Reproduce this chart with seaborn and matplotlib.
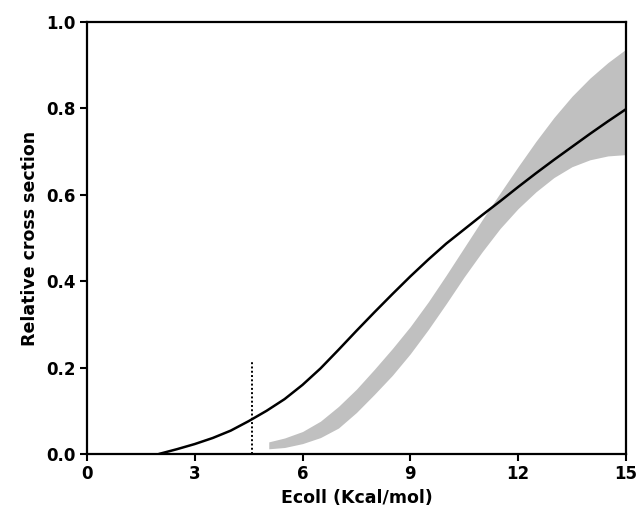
import matplotlib
matplotlib.use("Agg")
import matplotlib.pyplot as plt
import seaborn as sns
import pandas as pd

# Theory curve
curve_e = [2.0, 2.5, 3.0, 3.5, 4.0, 4.5, 5.0, 5.5, 6.0, 6.5, 7.0, 7.5, 8.0, 8.5,
           9.0, 9.5, 10.0, 10.5, 11.0, 11.5, 12.0, 12.5, 13.0, 13.5, 14.0, 14.5, 15.0]
curve_y = [0.0, 0.011, 0.023, 0.037, 0.054, 0.076, 0.100, 0.127, 0.160, 0.198,
           0.241, 0.285, 0.328, 0.370, 0.411, 0.450, 0.487, 0.520, 0.553, 0.585,
           0.618, 0.650, 0.681, 0.711, 0.741, 0.770, 0.798]

# Experimental band (lower / upper)
band_e = [5.06, 5.5, 6.0, 6.5, 7.0, 7.5, 8.0, 8.5, 9.0, 9.5, 10.0, 10.5, 11.0,
          11.5, 12.0, 12.5, 13.0, 13.5, 14.0, 14.5, 15.0]
band_lo = [0.012, 0.015, 0.024, 0.038, 0.060, 0.096, 0.138, 0.182, 0.232, 0.288,
           0.348, 0.410, 0.468, 0.522, 0.568, 0.607, 0.640, 0.665, 0.681, 0.690, 0.693]
band_hi = [0.028, 0.037, 0.052, 0.076, 0.110, 0.150, 0.196, 0.244, 0.295, 0.352,
           0.414, 0.478, 0.542, 0.604, 0.665, 0.724, 0.779, 0.828, 0.870, 0.906, 0.937]

# Threshold marker
thresh_e = 4.6
thresh_top = 0.215

x_ticks = [0, 3, 6, 9, 12, 15]
y_ticks = [0.0, 0.2, 0.4, 0.6, 0.8, 1.0]

sns.set_style("ticks")
plt.rcParams['font.family'] = ['DejaVu Sans']
plt.rcParams['font.weight'] = 'bold'

fig = plt.figure(figsize=(6.36, 5.18), dpi=100)
ax = fig.add_axes([0.1368, 0.1236, 0.8472, 0.8339])

ax.fill_between(band_e, band_lo, band_hi, color='#c0c0c0', linewidth=0, zorder=1)

df = pd.DataFrame({'E': curve_e, 'y': curve_y})
sns.lineplot(data=df, x='E', y='y', color='black', linewidth=1.8, ax=ax, zorder=3)

ax.plot([thresh_e, thresh_e], [0, thresh_top], color='black', linestyle=(0, (1, 1.2)),
        linewidth=1.4, zorder=2)

ax.set_xlim(0, 15)
ax.set_ylim(0, 1.0)
ax.set_xticks(x_ticks)
ax.set_xticklabels([str(t) for t in x_ticks])
ax.set_yticks(y_ticks)
ax.set_yticklabels([f"{t:.1f}" for t in y_ticks])
ax.tick_params(axis='both', direction='out', length=5, width=1.5, labelsize=12,
               colors='black', pad=3)
for lab in ax.get_xticklabels() + ax.get_yticklabels():
    lab.set_fontweight('bold')
for s in ax.spines.values():
    s.set_visible(True)
    s.set_linewidth(1.6)
    s.set_color('black')

ax.set_xlabel('Ecoll (Kcal/mol)', fontsize=12.5, fontweight='bold', labelpad=4,
              color='black')
ax.set_ylabel('Relative cross section', fontsize=12.5, fontweight='bold', labelpad=5,
              color='black')

fig.savefig('out.png', dpi=100)
